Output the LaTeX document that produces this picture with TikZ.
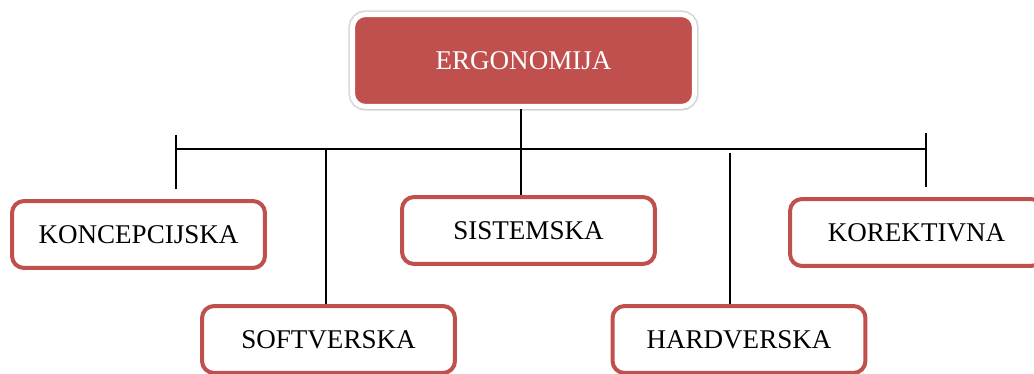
\documentclass[tikz,border=0pt]{standalone}
\usepackage{fontspec}
\setmainfont{Liberation Serif}
\usetikzlibrary{positioning,shadows}
\definecolor{ergored}{RGB}{192,80,77}
\tikzset{
    mainbox/.style={
        rectangle, rounded corners=0.26cm,
        fill=ergored, draw=white, line width=0.1cm,
        minimum width=6.84cm, minimum height=1.84cm,
        text=white, font=\fontsize{15.4}{18}\selectfont,
        preaction={draw=black!15, line width=0.17cm},
        drop shadow={shadow xshift=0.01cm, shadow yshift=-0.06cm,
                     opacity=0.2, fill=black!70}
    },
    subbox/.style={
        rectangle, rounded corners=0.24cm,
        fill=white, draw=ergored, line width=0.08cm,
        minimum width=5.06cm, minimum height=1.34cm,
        text=black, font=\fontsize{15.4}{18}\selectfont
    },
    link/.style={draw=black, line width=0.85pt}
}

\begin{document}
\begin{tikzpicture}[x=0.02cm, y=-0.02cm]
    \useasboundingbox (0,0) rectangle (1034,374);
    \clip (0,0) rectangle (1034,374);
    % Nodes
    \node[mainbox] (ergo) at (523.5,60.5) {ERGONOMIJA};
    \node[subbox] (konc) at (138.5,234.5) {KONCEPCIJSKA};
    \node[subbox] (sist) at (528.5,230.5) {SISTEMSKA};
    \node[subbox] (kore) at (916.5,232.5) {KOREKTIVNA};
    \node[subbox] (soft) at (328.5,339.5) {SOFTVERSKA};
    \node[subbox] (hard) at (739,339.5) {HARDVERSKA};
    % Bus
    \coordinate (busl) at (176,149);
    \coordinate (busr) at (926,149);
    \coordinate (tickl top) at (176,135);
    \coordinate (tickl bot) at (176,189);
    \coordinate (tickr top) at (926,133);
    \coordinate (tickr bot) at (926,187);
    \coordinate (softtop) at (326,149);
    \coordinate (hardtop) at (730,153);
    % Connectors
    \draw[link] (busl) -- (busr);
    \draw[link] (tickl top) -- (tickl bot);
    \draw[link] (tickr top) -- (tickr bot);
    \draw[link] ([xshift=-0.05cm]ergo.south) -- ([xshift=-0.05cm]ergo.south |- sist.north);
    \draw[link] (softtop) -- (softtop |- soft.north);
    \draw[link] (hardtop) -- (hardtop |- hard.north);
\end{tikzpicture}
\end{document}
